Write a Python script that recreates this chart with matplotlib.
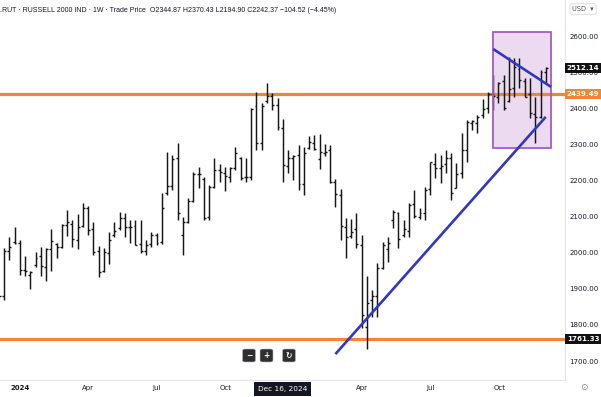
import matplotlib
matplotlib.use("Agg")
import matplotlib.pyplot as plt
import matplotlib.dates as mdates
import pandas as pd
from matplotlib.patches import Rectangle, FancyBboxPatch

# ---------------- data ----------------
first_week = "2023-12-04"
opens = [1865, 1880, 2005, 2030,
         2027, 1951, 1938, 1965, 1990, 1960, 2010, 2025, 2017, 2076, 2080, 2035, 2075,
         2125, 2065, 2005, 1950, 2000, 2050, 2068, 2096, 2070, 2075, 2025, 2005, 2025,
         2048, 2030, 2165, 2184, 2262, 2050, 2085, 2142, 2218, 2205, 2100, 2182, 2230,
         2222, 2210, 2235, 2262, 2210, 2210, 2405, 2303, 2420, 2434, 2408, 2344.87, 2240, 2262,
         2270, 2190, 2290, 2305, 2260, 2275, 2285, 2197, 2160, 2070, 2045, 2065,
         2020, 1795, 1870, 1880, 1958, 2010, 2090, 2110, 2050, 2060, 2135, 2100, 2110,
         2175, 2245, 2235, 2245, 2262, 2180, 2220, 2285, 2360, 2360, 2380, 2400, 2440,
         2430, 2475, 2420, 2455, 2510, 2475, 2440, 2385, 2377, 2500]
highs = [1895, 2012, 2044, 2072,
         2035, 1990, 1948, 2003, 2016, 2014, 2065, 2027, 2079, 2118, 2090, 2107, 2138,
         2130, 2086, 2019, 2013, 2058, 2086, 2114, 2111, 2090, 2090, 2090, 2035, 2058,
         2055, 2165, 2280, 2270, 2303, 2099, 2151, 2224, 2238, 2209, 2187, 2261, 2245,
         2236, 2238, 2292, 2264, 2261, 2400, 2446, 2414, 2469, 2443, 2427, 2370.43, 2284, 2270,
         2298, 2293, 2323, 2326, 2329, 2301, 2298, 2203, 2175, 2095, 2093, 2111,
         2049, 1935, 1897, 1971, 2030, 2044, 2118, 2114, 2090, 2137, 2173, 2125, 2183,
         2252, 2275, 2270, 2284, 2275, 2248, 2331, 2367, 2367, 2381, 2425, 2446, 2492,
         2474, 2492, 2543, 2538, 2540, 2483, 2483, 2432, 2506, 2515]
lows = [1855, 1869, 1980, 2024,
        1938, 1935, 1900, 1961, 1935, 1921, 1949, 1984, 2013, 2047, 2017, 2010, 2072,
        2049, 1994, 1932, 1947, 1969, 2044, 2062, 2044, 2027, 2021, 1998, 1994, 2017,
        2021, 2025, 2160, 2173, 2090, 1994, 2082, 2141, 2178, 2090, 2090, 2178, 2196,
        2172, 2196, 2229, 2201, 2196, 2201, 2284, 2284, 2414, 2395, 2340, 2194.90, 2220, 2201,
        2173, 2160, 2287, 2285, 2232, 2268, 2194, 2126, 2035, 1984, 2040, 2012,
        1791, 1733, 1823, 1823, 1955, 1975, 2067, 2012, 2044, 2044, 2095, 2092, 2090,
        2160, 2206, 2192, 2220, 2146, 2178, 2206, 2252, 2340, 2331, 2372, 2386, 2395,
        2414, 2395, 2418, 2432, 2455, 2432, 2372, 2303, 2372, 2469]
closes = [1880, 2005, 2017, 2027,
          1951, 1950, 1946, 1986, 1962, 2009, 2032, 2016, 2076, 2084, 2039, 2072, 2125,
          2063, 2003, 1947, 2002, 2036, 2059, 2096, 2070, 2070, 2022, 2006, 2022, 2048,
          2026, 2125, 2184, 2260, 2109, 2084, 2142, 2218, 2218, 2097, 2182, 2228, 2224,
          2212, 2234, 2276, 2208, 2210, 2399, 2303, 2406, 2434, 2409, 2347, 2242.37, 2261, 2268,
          2189, 2275, 2307, 2288, 2279, 2280, 2195, 2163, 2075, 2044, 2057, 2023,
          1827, 1860, 1880, 1957, 2020, 2026, 2113, 2039, 2066, 2132, 2101, 2110, 2173,
          2250, 2234, 2240, 2261, 2166, 2218, 2285, 2362, 2366, 2376, 2397, 2440, 2434,
          2470, 2400, 2452, 2513, 2479, 2432, 2388, 2377, 2500, 2512.14]

levels = [2439.49, 1761.33]
last_price = 2512.14
box_dates = ["2025-09-22", "2025-12-08"]
box_prices = [2290, 2611]
down_line_dates = ["2025-09-22", "2025-12-08"]
down_line_prices = [2564, 2459]
up_line_dates = ["2025-02-24", "2025-12-01"]
up_line_prices = [1719, 2376]
price_ticks = [1700, 1800, 1900, 2000, 2100, 2200, 2300, 2400, 2500, 2600]
time_ticks = ["2024-01-01", "2024-04-01", "2024-07-01", "2024-10-01",
              "2025-04-01", "2025-07-01", "2025-10-01"]
time_labels = ["2024", "Apr", "Jul", "Oct", "Apr", "Jul", "Oct"]
header = (".RUT · RUSSELL 2000 IND · 1W · Trade Price  O2344.87 H2370.43 "
          "L2194.90 C2242.37 −104.52 (−4.45%)")
crosshair_date = "2024-12-16"
crosshair_label = "Dec 16, 2024"

# ---------------- figure ----------------
W, H = 601, 397
fig = plt.figure(figsize=(W / 100, H / 100), dpi=100)
ax = fig.add_axes([0, 17 / H, 565 / W, 380 / H])

weeks = pd.date_range(first_week, periods=len(closes), freq="7D")
xn = mdates.date2num(weeks)
tick = 2.6  # days

bar_col = "#161616"
ax.vlines(xn, lows, highs, color=bar_col, lw=1.05, zorder=3)
ax.hlines(opens, xn - tick, xn, color=bar_col, lw=1.0, zorder=3)
ax.hlines(closes, xn, xn + tick, color=bar_col, lw=1.0, zorder=3)

orange = "#EE8633"
for lv in levels:
    ax.axhline(lv, color=orange, lw=2.3, zorder=2)

bx = mdates.date2num(pd.to_datetime(box_dates))
ax.add_patch(Rectangle((bx[0], box_prices[0]), bx[1] - bx[0], box_prices[1] - box_prices[0],
                       facecolor="#CDA3DA", alpha=0.40, edgecolor="none", zorder=1))
ax.add_patch(Rectangle((bx[0], box_prices[0]), bx[1] - bx[0], box_prices[1] - box_prices[0],
                       facecolor="none", edgecolor="#A55BC4", lw=1.3, zorder=4))

blue = "#3138C0"
ax.plot(mdates.date2num(pd.to_datetime(down_line_dates)), down_line_prices, color=blue, lw=1.9,
        zorder=5, solid_capstyle="butt")
ax.plot(mdates.date2num(pd.to_datetime(up_line_dates)), up_line_prices, color=blue, lw=1.9,
        zorder=5, solid_capstyle="butt")

base = mdates.date2num(pd.Timestamp("2023-12-11"))
ax.set_xlim(base - 5.3, base + 746.6)
ax.set_ylim(1647.4, 2699.7)

# axes styling
for s in ["top", "left"]:
    ax.spines[s].set_visible(False)
for s in ["right", "bottom"]:
    ax.spines[s].set_color("#E0E3EB")
    ax.spines[s].set_linewidth(0.8)

ax.yaxis.tick_right()
ax.set_yticks(price_ticks)
ax.set_yticklabels([f"{p:.2f}" for p in price_ticks])
ax.tick_params(axis="y", length=0, pad=3.2, labelsize=5.0, labelcolor="#131722")
ax.set_xticks(mdates.date2num(pd.to_datetime(time_ticks)))
ax.set_xticklabels(time_labels)
ax.tick_params(axis="x", length=0, pad=3.5, labelsize=5.0, labelcolor="#131722")
ax.get_xticklabels()[0].set_fontweight("bold")

# right-axis price labels
yt = ax.get_yaxis_transform()
def price_box(val, fc):
    ax.text(1.0 + 18 / 565, val, f"{val:.2f}", transform=yt, ha="center", va="center",
            fontsize=5.1, fontweight="bold", color="white", zorder=10, clip_on=False,
            bbox=dict(boxstyle="square,pad=0.3", fc=fc, ec="none"))
price_box(last_price, "#111111")
price_box(levels[0], orange)
price_box(levels[1], "#111111")

# crosshair date label
xt = ax.get_xaxis_transform()
ax.text(mdates.date2num(pd.Timestamp(crosshair_date)), -9 / 380, crosshair_label,
        transform=xt, ha="center", va="center", fontsize=5.3, color="white",
        clip_on=False, zorder=10, bbox=dict(boxstyle="square,pad=0.5", fc="#131722", ec="none"))

# header
fig.text(0.0, 1 - 10 / H, header, ha="left", va="center", fontsize=5.0,
         color="#131722", family="Liberation Sans")

# zoom buttons (13x13 px rounded squares)
for px, sym in [(249, "−"), (266.5, "+"), (289, "↻")]:
    fig.add_artist(FancyBboxPatch(((px - 6.5) / W, 1 - 362 / H), 13 / W, 13 / H,
                                  boxstyle="round,pad=0,rounding_size=0.004",
                                  transform=fig.transFigure, fc="#2F2F31", ec="#BDBDBD",
                                  lw=0.4, zorder=20))
    fig.text(px / W, 1 - 355.5 / H, sym, ha="center", va="center", fontsize=5.5,
             color="white", fontweight="bold", zorder=21)

# USD + gear
fig.text(583 / W, 1 - 9 / H, "USD  ▾", ha="center", va="center", fontsize=4.8, color="#505050",
         bbox=dict(boxstyle="round,pad=0.35", fc="white", ec="#D9DBE0", lw=0.6))
fig.text(584 / W, 1 - 388 / H, "⊙", ha="center", va="center", fontsize=6.5, color="#7A7A7A")

fig.savefig("out.png", dpi=100)
